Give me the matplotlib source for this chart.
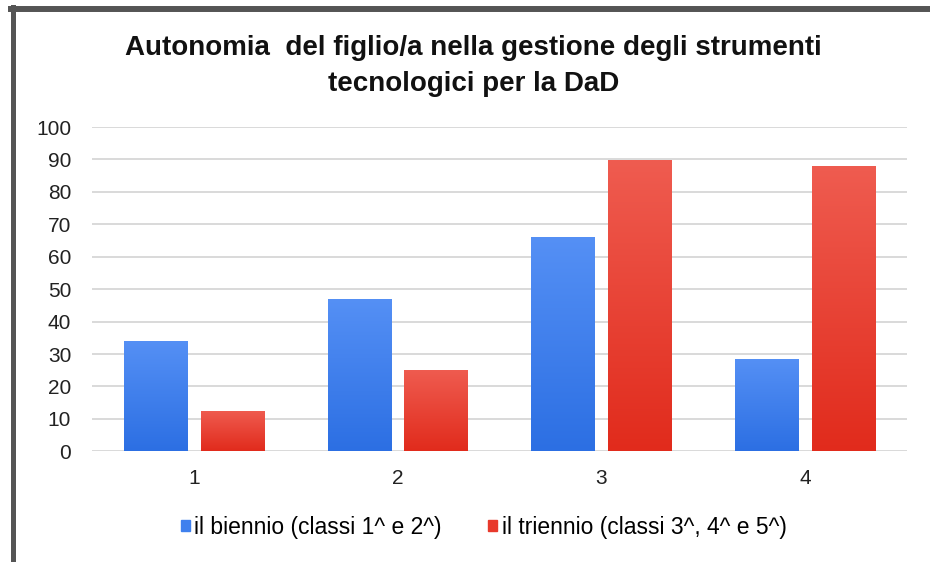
import numpy as np
import matplotlib
matplotlib.use('Agg')
from matplotlib import pyplot as plt
from matplotlib.colors import LinearSegmentedColormap
from matplotlib.patches import Patch
from matplotlib.lines import Line2D

categories = ['1', '2', '3', '4']
biennio = [34, 47, 66, 28.5]
triennio = [12.5, 25, 89.7, 88]
labels = ['il biennio (classi 1^ e 2^)', 'il triennio (classi 3^, 4^ e 5^)']
title = 'Autonomia  del figlio/a nella gestione degli strumenti\ntecnologici per la DaD'

plt.rcParams['font.family'] = ['Liberation Sans', 'DejaVu Sans']

fig = plt.figure(figsize=(9.3, 5.62), dpi=100)
ax = fig.add_axes([0.099, 0.197, 0.876, 0.577])

x = np.arange(1, len(categories) + 1)
w = 0.31
off = 0.189
blue_cm = LinearSegmentedColormap.from_list('b', ['#2c6fe3', '#5590f5'])
red_cm = LinearSegmentedColormap.from_list('r', ['#e12b1c', '#ef5c50'])

grad = np.linspace(0, 1, 256).reshape(-1, 1)
for vals, dx, cm in [(biennio, -off, blue_cm), (triennio, off, red_cm)]:
    bars = ax.bar(x + dx, vals, w, color='none', edgecolor='none', zorder=3)
    for b in bars:
        x0, y0 = b.get_x(), b.get_y()
        im = ax.imshow(grad, cmap=cm, origin='lower', aspect='auto',
                       extent=[x0, x0 + b.get_width(), y0, y0 + b.get_height()], zorder=3)
        im.set_clip_path(b)

ax.set_xlim(0.5, 4.5)
ax.set_ylim(0, 100)
ax.set_yticks(range(0, 101, 10))
ax.set_xticks(x)
ax.set_xticklabels(categories)
ax.grid(axis='y', color='#d9d9d9', linewidth=1.4, zorder=0)
ax.set_axisbelow(True)
for s in ax.spines.values():
    s.set_visible(False)
ax.tick_params(length=0, labelsize=15, colors='#222222')
ax.tick_params(axis='y', pad=15)
ax.tick_params(axis='x', pad=13)

fig.text(0.509, 0.882, title, ha='center', va='center', fontsize=20,
         fontweight='bold', linespacing=1.5, color='#111111')

handles = [Patch(color='#3f80ee'), Patch(color='#e8392c')]
fig.legend(handles, labels, loc='center', bbox_to_anchor=(0.52, 0.062), ncol=2,
           frameon=False, handlelength=0.4, handleheight=0.4, handletextpad=0.2,
           columnspacing=2.0, prop={'size': 16.5})

# picture frame
fig.add_artist(Line2D([0.0140, 0.0140], [0, 0.987], color='#555555', linewidth=3.6))
fig.add_artist(Line2D([0.0120, 1.0], [0.984, 0.984], color='#555555', linewidth=4.3))

fig.savefig('out.png', dpi=100)
